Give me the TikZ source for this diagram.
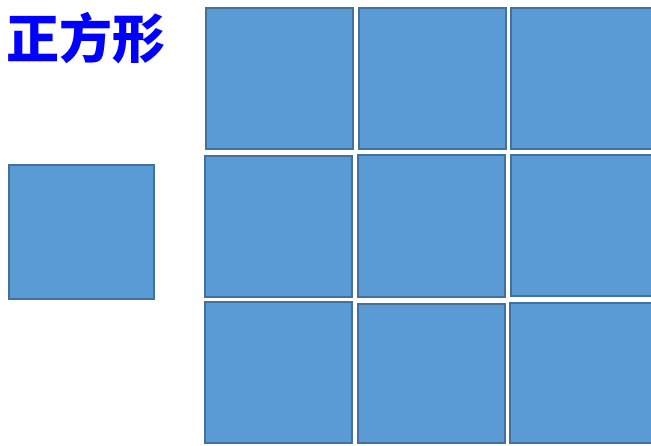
\documentclass[tikz,border=0pt]{standalone}
\usepackage{fontspec}
\newfontfamily\cjk{Noto Sans CJK SC}
\definecolor{sqfill}{HTML}{5B9BD5}
\definecolor{sqline}{HTML}{41719C}
\definecolor{titleblue}{HTML}{0000FF}
\begin{document}
\begin{tikzpicture}[x=1pt,y=-1pt,
  sq/.style={fill=sqfill,draw=sqline,line width=2.4pt},
  titletext/.style={text=titleblue,font=\cjk\bfseries\fontsize{53}{63}\selectfont,inner sep=0pt}]
\useasboundingbox (0,0) rectangle (651,445);
\clip (0,0) rectangle (651,445);
\node[titletext] (title) at (85.5,38.5) {正方形};
% single square
\draw[sq] (9.2,165.2) rectangle (153.8,298.8);
% grid row 1
\draw[sq] (206.2,8.2) rectangle (352.8,148.8);
\draw[sq] (359.2,8.2) rectangle (505.8,148.8);
\draw[sq] (511.2,8.2) rectangle (660,148.8);
% row 2
\draw[sq] (205.2,156.2) rectangle (351.8,296.8);
\draw[sq] (358.2,155.2) rectangle (504.8,296.8);
\draw[sq] (511.2,155.2) rectangle (660,295.8);
% row 3
\draw[sq] (205.2,302.2) rectangle (351.8,443);
\draw[sq] (358.2,304.2) rectangle (504.8,443);
\draw[sq] (510.2,303.2) rectangle (660,443);
\end{tikzpicture}
\end{document}
